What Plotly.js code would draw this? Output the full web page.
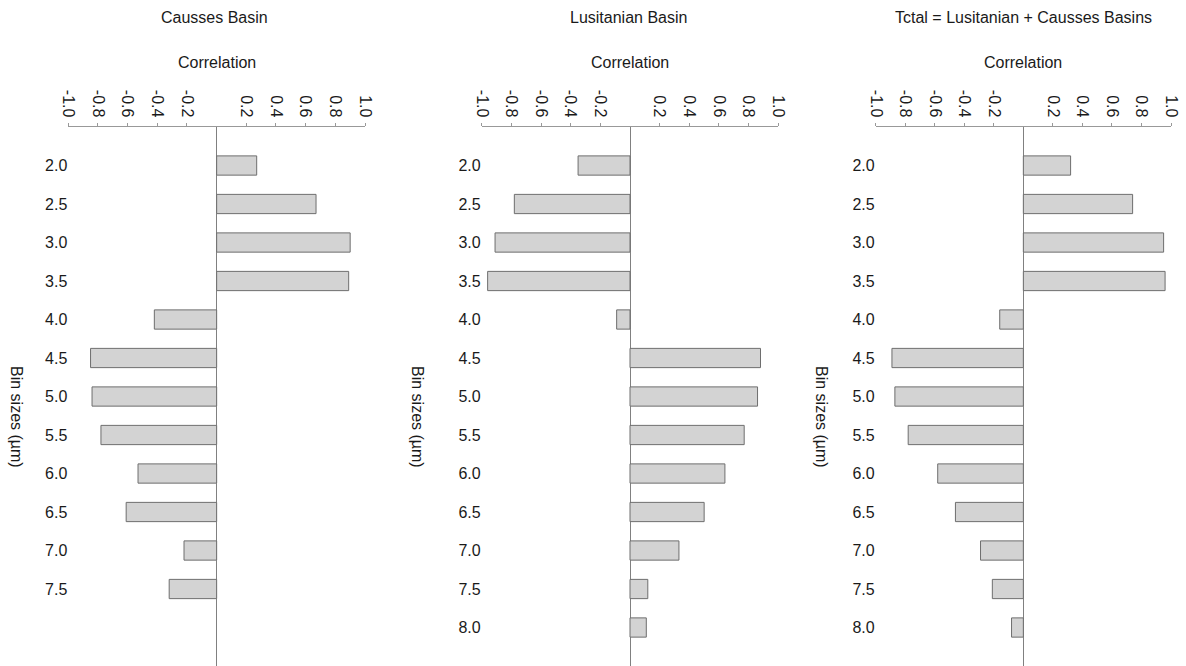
<!DOCTYPE html>
<html>
<head>
<meta charset="utf-8">
<script src="https://cdn.plot.ly/plotly-3.0.1.min.js"></script>
<style>html,body{margin:0;padding:0;background:#fff;}#chart{width:1186px;height:666px;}</style>
</head>
<body>
<div id="chart"></div>
<script>
const binsCausses = [2.0, 2.5, 3.0, 3.5, 4.0, 4.5, 5.0, 5.5, 6.0, 6.5, 7.0, 7.5];
const binsAll = [2.0, 2.5, 3.0, 3.5, 4.0, 4.5, 5.0, 5.5, 6.0, 6.5, 7.0, 7.5, 8.0];
const causses = [0.27, 0.67, 0.90, 0.89, -0.42, -0.85, -0.84, -0.78, -0.53, -0.61, -0.22, -0.32];
const lusitanian = [-0.35, -0.78, -0.91, -0.96, -0.09, 0.88, 0.86, 0.77, 0.64, 0.50, 0.33, 0.12, 0.11];
const total = [0.32, 0.74, 0.95, 0.96, -0.16, -0.89, -0.87, -0.78, -0.58, -0.46, -0.29, -0.21, -0.08];
const panelTitles = ["Causses Basin", "Lusitanian Basin", "Tctal = Lusitanian + Causses Basins"];
const xTickVals = [-1.0, -0.8, -0.6, -0.4, -0.2, 0.2, 0.4, 0.6, 0.8, 1.0];
const xTickText = ["-1.0", "-0.8", "-0.6", "-0.4", "-0.2", "0.2", "0.4", "0.6", "0.8", "1.0"];
const yTickTextCausses = ["2.0", "2.5", "3.0", "3.5", "4.0", "4.5", "5.0", "5.5", "6.0", "6.5", "7.0", "7.5"];
const yTickTextAll = ["2.0", "2.5", "3.0", "3.5", "4.0", "4.5", "5.0", "5.5", "6.0", "6.5", "7.0", "7.5", "8.0"];
const xAxisTitle = "Correlation";
const yAxisTitle = "Bin sizes (µm)";

const W = 1186, H = 666;
const FONT = {family: "Liberation Sans, Arial, sans-serif", size: 16, color: "#1a1a1a"};
const barStyle = {color: "#d3d3d3", line: {color: "#6e6e6e", width: 1}};

function bar(y, x, n) {
  const s = n === 1 ? "" : String(n);
  return {type: "bar", orientation: "h", x: x, y: y, width: 0.25,
    marker: barStyle, xaxis: "x" + s, yaxis: "y" + s, hoverinfo: "x+y", showlegend: false};
}

const data = [bar(binsCausses, causses, 1), bar(binsAll, lusitanian, 2), bar(binsAll, total, 3)];

const xDomains = [[68.3, 365], [481.7, 778.3], [875.7, 1171]];
const yTop = 127;

function xAxis(i) {
  return {
    domain: [xDomains[i][0] / W, xDomains[i][1] / W],
    range: [-1, 1], side: "top", anchor: i === 0 ? "y" : "y" + (i + 1),
    showline: true, linecolor: "#999", linewidth: 1,
    ticks: "outside", ticklen: 3, tickcolor: "#999",
    tickvals: xTickVals, ticktext: xTickText, tickangle: 90,
    tickfont: FONT, showgrid: false,
    zeroline: true, zerolinecolor: "#808080", zerolinewidth: 1,
    fixedrange: true
  };
}
function yAxis(i, vals, text) {
  return {
    domain: [0, 1 - yTop / H], range: [8.5, 1.5],
    anchor: i === 0 ? "x" : "x" + (i + 1),
    tickvals: vals, ticktext: text, tickfont: FONT,
    showline: false, ticks: "", showgrid: false, zeroline: false,
    fixedrange: true
  };
}

const annotations = [];
const titleX = [214.7, 628.3, 1023.7];
const corrX = [216.7, 629.7, 1022.8];
const yTitleX = [17, 418, 822];
for (let i = 0; i < 3; i++) {
  annotations.push({text: panelTitles[i], xref: "paper", yref: "paper",
    x: titleX[i] / W, y: 1 - 17 / H, showarrow: false, font: FONT,
    xanchor: "center", yanchor: "middle"});
  annotations.push({text: xAxisTitle, xref: "paper", yref: "paper",
    x: corrX[i] / W, y: 1 - 62 / H, showarrow: false, font: FONT,
    xanchor: "center", yanchor: "middle"});
  annotations.push({text: yAxisTitle, xref: "paper", yref: "paper",
    x: yTitleX[i] / W, y: 1 - 417 / H, showarrow: false, font: FONT,
    textangle: 90, xanchor: "center", yanchor: "middle"});
}

const layout = {
  width: W, height: H,
  margin: {l: 0, r: 0, t: 0, b: 0},
  paper_bgcolor: "#fff", plot_bgcolor: "#fff",
  font: FONT, bargap: 0.5,
  xaxis: xAxis(0), xaxis2: xAxis(1), xaxis3: xAxis(2),
  yaxis: yAxis(0, binsCausses, yTickTextCausses),
  yaxis2: yAxis(1, binsAll, yTickTextAll),
  yaxis3: yAxis(2, binsAll, yTickTextAll),
  annotations: annotations
};

Plotly.newPlot("chart", data, layout, {displayModeBar: false, staticPlot: true});
</script>
</body>
</html>
